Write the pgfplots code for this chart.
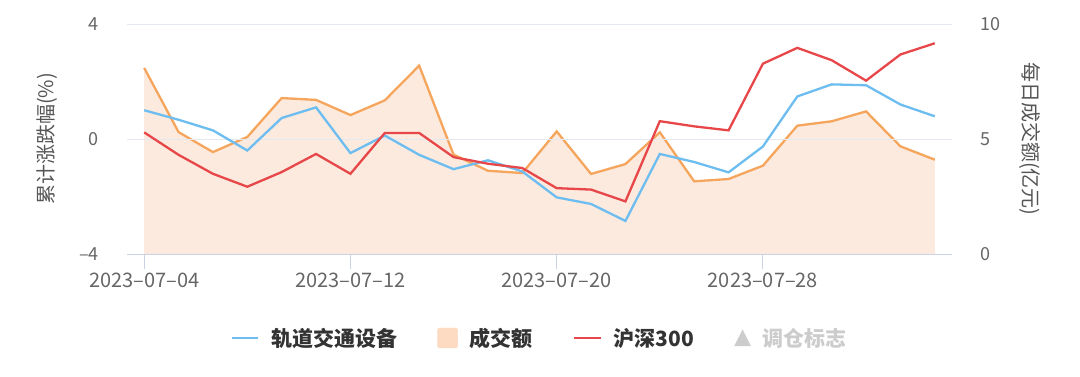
\documentclass[border=0pt]{standalone}
\usepackage{pgfplots}
\pgfplotsset{compat=1.18}
\usepackage{pgfplotstable}
\usepackage{fontspec}
\setmainfont{Noto Sans CJK SC}
\definecolor{cblue}{HTML}{6DBDF0}
\definecolor{corange}{HTML}{F5A55C}
\definecolor{cred}{HTML}{E8474A}
\definecolor{cfill}{HTML}{FCEADF}
\definecolor{csq}{HTML}{FDDBC2}
\definecolor{cgrid}{HTML}{E4E8EF}
\definecolor{caxis}{HTML}{C9D3E3}
\definecolor{ctick}{HTML}{666666}
\definecolor{clab}{HTML}{555555}
\definecolor{clegend}{HTML}{333333}
\definecolor{cdis}{HTML}{CCCCCC}

\pgfplotstableread{
i blue red amt
0 1.00 0.23 8.09
1 0.67 -0.55 5.30
2 0.30 -1.21 4.43
3 -0.40 -1.66 5.09
4 0.73 -1.15 6.78
5 1.10 -0.52 6.70
6 -0.49 -1.21 6.04
7 0.12 0.21 6.68
8 -0.55 0.21 8.19
9 -1.05 -0.63 4.32
10 -0.74 -0.86 3.62
11 -1.13 -1.01 3.52
12 -2.03 -1.71 5.33
13 -2.26 -1.76 3.48
14 -2.85 -2.17 3.91
15 -0.52 0.62 5.29
16 -0.80 0.44 3.16
17 -1.16 0.30 3.26
18 -0.26 2.62 3.84
19 1.48 3.17 5.58
20 1.90 2.74 5.77
21 1.87 2.03 6.20
22 1.20 2.94 4.68
23 0.79 3.33 4.10
}\datatable

\pgfplotsset{
  legblue/.style={legend image code/.code={\draw[cblue, line width=2.2bp] (0bp,0bp) -- (26bp,0bp);}},
  legsq/.style={legend image code/.code={\fill[csq, rounded corners=1.5bp] (0bp,-10bp) rectangle (20bp,10bp);}},
  legred/.style={legend image code/.code={\draw[cred, line width=2.2bp] (0bp,0bp) -- (27bp,0bp);}},
  legtri/.style={legend image code/.code={\fill[cdis] (0bp,-8bp) -- (16bp,-8bp) -- (8bp,8bp) -- cycle;}},
}

\begin{document}
\begin{tikzpicture}
% right axis: turnover area
\begin{axis}[
  scale only axis, width=825bp, height=230bp,
  xmin=-0.5, xmax=23.5, ymin=0, ymax=10,
  axis x line=none,
  axis y line*=right,
  y axis line style={draw=none},
  ytick={0,5,10},
  ytick style={draw=none},
  yticklabel style={font=\fontsize{18bp}{20bp}\selectfont, text=ctick, anchor=west, inner sep=0pt, xshift=28bp},
  /pgf/number format/assume math mode=true,
  ylabel={每日成交额(亿元)},
  ylabel style={font=\fontsize{20bp}{22bp}\selectfont, text=clab, at={([xshift=78bp]axis description cs:1,0.5)}, anchor=center, rotate=180},
]
\addplot[draw=none, fill=cfill] table[x=i, y=amt] {\datatable} \closedcycle;
\addplot[corange, line width=2.3bp] table[x=i, y=amt] {\datatable};
\end{axis}
% left axis: cumulative change
\begin{axis}[
  scale only axis, width=825bp, height=230bp,
  xmin=-0.5, xmax=23.5, ymin=-4, ymax=4,
  axis x line*=bottom, axis y line*=left,
  x axis line style={draw=caxis, line width=1bp},
  y axis line style={draw=none},
  xtick={0,6,12,18},
  xticklabels={2023–07–04, 2023–07–12, 2023–07–20, 2023–07–28},
  tick align=outside,
  major tick length=15bp,
  xtick style={draw=caxis, line width=1bp},
  ytick={-4,0,4},
  yticklabels={–4,0,4},
  ytick style={draw=none},
  ymajorgrids,
  grid style={cgrid, line width=1bp},
  xticklabel style={font=\fontsize{20bp}{22bp}\selectfont, text=ctick, inner sep=0pt, yshift=-4bp},
  yticklabel style={font=\fontsize{18bp}{20bp}\selectfont, text=ctick, anchor=east, inner sep=0pt, xshift=-13bp},
  /pgf/number format/assume math mode=true,
  ylabel={累计涨跌幅(\%)},
  ylabel style={font=\fontsize{20bp}{22bp}\selectfont, text=clab, at={([xshift=-80bp]axis description cs:0,0.5)}, anchor=center},
  legend columns=4,
  legend style={at={(axis description cs:0.5006,-0.365)}, anchor=center, draw=none, fill=none,
    font=\bfseries\fontsize{21bp}{23bp}\selectfont, text=clegend, inner sep=0pt,
    /tikz/every odd column/.append style={column sep=10bp},
    /tikz/every even column/.append style={column sep=38bp}},
]
\addplot[cblue, line width=2.3bp, forget plot] table[x=i, y=blue] {\datatable};
\addplot[cred, line width=2.3bp, forget plot] table[x=i, y=red] {\datatable};
\addlegendimage{legblue}
\addlegendentry{轨道交通设备}
\addlegendimage{legsq}
\addlegendentry{成交额}
\addlegendimage{legred}
\addlegendentry{沪深300}
\addlegendimage{legtri}
\addlegendentry{\textcolor{cdis}{调仓标志}}
\end{axis}
\pgfresetboundingbox
\path ([xshift=-127bp,yshift=-123bp]current axis.south west) rectangle ([xshift=128bp,yshift=24bp]current axis.north east);
\end{tikzpicture}
\end{document}
